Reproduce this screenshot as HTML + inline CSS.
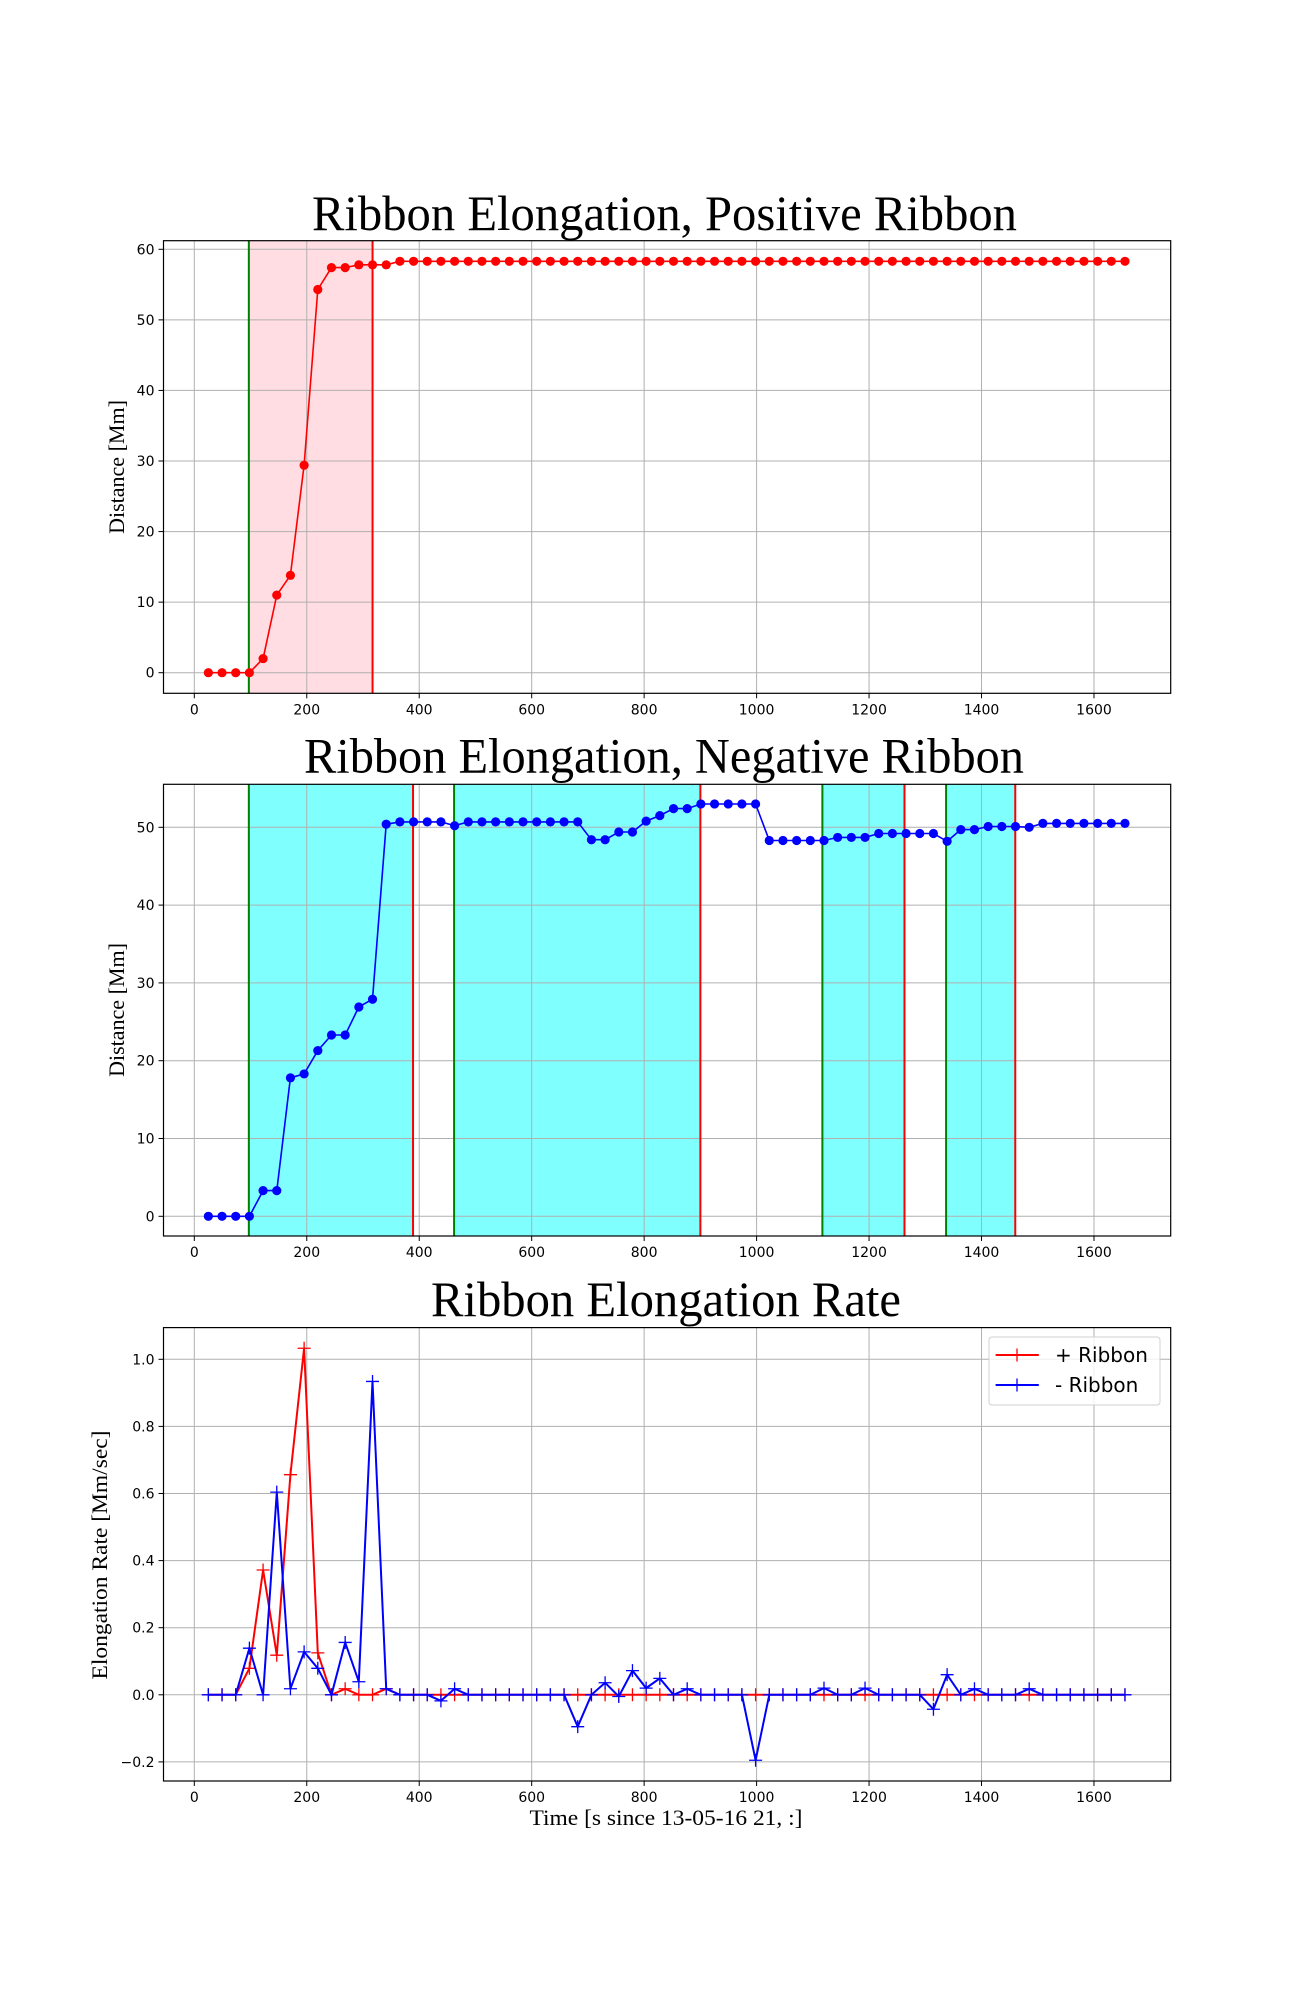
<!DOCTYPE html>
<html><head><meta charset="utf-8"><style>
html,body{margin:0;padding:0;background:#fff;}
svg{display:block;}
</style></head><body>
<svg id="fig" width="1300" height="2000" xmlns="http://www.w3.org/2000/svg" font-family="'DejaVu Sans', sans-serif"></svg>
<script>
// ---- data ----
const times = [];
for (let i = 0; i < 68; i++) times.push(25 + 24.33 * i);
const posDist = [0,0,0,0,2,11,13.8,29.4,54.3,57.4,57.4,57.8,57.8,57.8,
 58.3,58.3,58.3,58.3,58.3,58.3,58.3,58.3,58.3,58.3,58.3,58.3,58.3,58.3,58.3,58.3,58.3,58.3,58.3,58.3,
 58.3,58.3,58.3,58.3,58.3,58.3,58.3,58.3,58.3,58.3,58.3,58.3,58.3,58.3,58.3,58.3,58.3,58.3,58.3,58.3,
 58.3,58.3,58.3,58.3,58.3,58.3,58.3,58.3,58.3,58.3,58.3,58.3,58.3,58.3];
const negDist = [0,0,0,0,3.3,3.3,17.8,18.3,21.3,23.3,23.3,26.9,27.9,50.4,50.7,50.7,50.7,50.7,50.2,
 50.7,50.7,50.7,50.7,50.7,50.7,50.7,50.7,50.7,48.4,48.4,49.4,49.4,50.8,51.5,52.4,52.4,53.0,53.0,53.0,53.0,53.0,
 48.3,48.3,48.3,48.3,48.3,48.7,48.7,48.7,49.2,49.2,49.2,49.2,49.2,48.2,49.7,49.7,50.1,50.1,50.1,50.0,
 50.5,50.5,50.5,50.5,50.5,50.5,50.5];
const posRate = [0,0,0,0.079,0.372,0.118,0.656,1.033,0.125,0,0.018,0,0,0.018,
 0,0,0,0,0,0,0,0,0,0,0,0,0,0,0,0,0,0,0,0,0,0,0,0,0,0,0,0,0,0,0,0,0,0,0,0,0,0,0,0,0,0,0,0,0,0,0,0,0,0,0,0,0,0];
const negRate = [0,0,0,0.139,0,0.604,0.018,0.128,0.079,0,0.156,0.039,0.934,0.018,0,0,0,-0.018,0.018,
 0,0,0,0,0,0,0,0,-0.095,0,0.036,-0.005,0.072,0.02,0.049,0,0.018,0,0,0,0,-0.195,
 0,0,0,0,0.02,0,0,0.02,0,0,0,0,-0.043,0.06,0,0.018,0,0,0,0.018,0,0,0,0,0,0,0];
const posSpans = [[97,317]];
const negSpans = [[97,389],[462,900],[1117,1263],[1337,1460]];
const xTicks = [0,200,400,600,800,1000,1200,1400,1600];
const distTicks1 = [0,10,20,30,40,50,60];
const distTicks2 = [0,10,20,30,40,50];
const rateTicks = [-0.2,0,0.2,0.4,0.6,0.8,1.0];

const NS = "http://www.w3.org/2000/svg";
const svg = document.getElementById('fig');
function el(tag, attrs, parent) {
  const e = document.createElementNS(NS, tag);
  for (const k in attrs) e.setAttribute(k, attrs[k]);
  (parent || svg).appendChild(e);
  return e;
}
const X0 = 194.3, XS = 0.5623, LEFT = 163.5, RIGHT = 1170.7;
const xs = t => X0 + t * XS;

function makeAxes(name, top, bottom, yA, pA, yB, pB, yTicks, fmt) {
  const g = el('g', {});
  
  
  const ys = v => pA + (v - yA) * (pB - pA) / (yB - yA);
  return {g, ys, top, bottom, yTicks, fmt};
}
function drawGrid(ax) {
  const gg = el('g', {}, ax.g);
  
  
  xTicks.forEach(t => el('line', {x1: xs(t), x2: xs(t), y1: ax.top, y2: ax.bottom, stroke: '#b0b0b0', 'stroke-width': 1}, gg));
  ax.yTicks.forEach(v => el('line', {x1: LEFT, x2: RIGHT, y1: ax.ys(v), y2: ax.ys(v), stroke: '#b0b0b0', 'stroke-width': 1}, gg));
}
function drawFrame(ax) {
  const fr = el('rect', {x: LEFT, y: ax.top, width: RIGHT - LEFT, height: ax.bottom - ax.top, fill: 'none', stroke: '#000', 'stroke-width': 1.2}, ax.g);
  
  
  const tk = el('g', {'font-size': 14, fill: '#000'}, ax.g);
  
  
  xTicks.forEach(t => {
    el('line', {x1: xs(t), x2: xs(t), y1: ax.bottom, y2: ax.bottom + 5, stroke: '#000'}, tk);
    const tx = el('text', {x: xs(t), y: ax.bottom + 21, 'text-anchor': 'middle'}, tk);
    tx.textContent = String(t);
  });
  ax.yTicks.forEach(v => {
    el('line', {x1: LEFT - 5, x2: LEFT, y1: ax.ys(v), y2: ax.ys(v), stroke: '#000'}, tk);
    const tx = el('text', {x: LEFT - 9, y: ax.ys(v) + 5, 'text-anchor': 'end'}, tk);
    tx.textContent = ax.fmt(v);
  });
}
function spans(ax, list, fill) {
  list.forEach(s => {
    const r = el('rect', {x: xs(s[0]), y: ax.top, width: xs(s[1]) - xs(s[0]), height: ax.bottom - ax.top, fill: fill}, ax.g);
    
    
  });
}
function vlines(ax, list) {
  list.forEach(s => {
    el('line', {x1: xs(s[0]), x2: xs(s[0]), y1: ax.top, y2: ax.bottom, stroke: '#008000', 'stroke-width': 2}, ax.g);
    el('line', {x1: xs(s[1]), x2: xs(s[1]), y1: ax.top, y2: ax.bottom, stroke: '#ff0000', 'stroke-width': 2}, ax.g);
  });
}
function series(ax, vals, color, marker, name) {
  const g = el('g', {}, ax.g);
  
  
  const pts = vals.map((v, i) => xs(times[i]).toFixed(1) + ',' + ax.ys(v).toFixed(1)).join(' ');
  el('polyline', {points: pts, fill: 'none', stroke: color, 'stroke-width': marker === 'o' ? 1.6 : 2, 'stroke-linejoin': 'miter'}, g);
  vals.forEach((v, i) => {
    const x = xs(times[i]), y = ax.ys(v);
    if (marker === 'o') {
      el('circle', {cx: x, cy: y, r: 4.6, fill: color}, g);
    } else {
      el('path', {d: `M${x-6.5},${y}H${x+6.5}M${x},${y-6.5}V${y+6.5}`, stroke: color, 'stroke-width': 1.3}, g);
    }
  });
}
function text(str, attrs, name) {
  const t = el('text', attrs);
  t.textContent = str;
  
  
  return t;
}
const SERIF = "'Liberation Serif', serif";

// Plot 1
const a1 = makeAxes('positive-ribbon-chart', 240.7, 693.3, 60, 249.3, 0, 672.7, distTicks1, v => String(v));
spans(a1, posSpans, '#ffdde2');
drawGrid(a1);
vlines(a1, posSpans);
series(a1, posDist, '#ff0000', 'o', 'positive-distance-series');
drawFrame(a1);
text('Ribbon Elongation, Positive Ribbon', {x: 312, y: 230, 'font-family': SERIF, 'font-size': 50, textLength: 705, lengthAdjust: 'spacingAndGlyphs'}, 'positive-chart-title');
text('Distance [Mm]', {x: 0, y: 0, 'font-family': SERIF, 'font-size': 22, 'text-anchor': 'middle', transform: 'translate(124,467) rotate(-90)'}, 'y-axis-title');

// Plot 2
const a2 = makeAxes('negative-ribbon-chart', 784.3, 1236, 50, 827.3, 0, 1216.3, distTicks2, v => String(v));
spans(a2, negSpans, '#80ffff');
drawGrid(a2);
vlines(a2, negSpans);
series(a2, negDist, '#0000ff', 'o', 'negative-distance-series');
drawFrame(a2);
text('Ribbon Elongation, Negative Ribbon', {x: 304, y: 772.7, 'font-family': SERIF, 'font-size': 50, textLength: 720, lengthAdjust: 'spacingAndGlyphs'}, 'negative-chart-title');
text('Distance [Mm]', {x: 0, y: 0, 'font-family': SERIF, 'font-size': 22, 'text-anchor': 'middle', transform: 'translate(124,1010) rotate(-90)'}, 'y-axis-title');

// Plot 3
const a3 = makeAxes('elongation-rate-chart', 1327.6, 1781, 1.0, 1359.3, 0, 1694.8, rateTicks, v => (v < 0 ? '\u2212' : '') + Math.abs(v).toFixed(1));
drawGrid(a3);
series(a3, posRate, '#ff0000', '+', 'positive-rate-series');
series(a3, negRate, '#0000ff', '+', 'negative-rate-series');
drawFrame(a3);
text('Ribbon Elongation Rate', {x: 431, y: 1316, 'font-family': SERIF, 'font-size': 50, textLength: 470, lengthAdjust: 'spacingAndGlyphs'}, 'rate-chart-title');
text('Elongation Rate [Mm/sec]', {x: 0, y: 0, 'font-family': SERIF, 'font-size': 22, 'text-anchor': 'middle', textLength: 249, lengthAdjust: 'spacingAndGlyphs', transform: 'translate(107,1555) rotate(-90)'}, 'y-axis-title');
text('Time [s since 13-05-16 21, :]', {x: 666, y: 1825, 'font-family': SERIF, 'font-size': 22, 'text-anchor': 'middle', textLength: 273, lengthAdjust: 'spacingAndGlyphs'}, 'x-axis-title');

// Legend
const lg = el('g', {});


el('rect', {x: 989, y: 1337, width: 171, height: 68, rx: 3, fill: '#fff', 'fill-opacity': 0.8, stroke: '#d0d0d0'}, lg);
[['+ Ribbon', '#ff0000', 1355], ['- Ribbon', '#0000ff', 1385]].forEach(e => {
  const it = el('g', {}, lg);
  
  
  el('line', {x1: 995.6, x2: 1038.8, y1: e[2], y2: e[2], stroke: e[1], 'stroke-width': 2}, it);
  el('path', {d: `M${1017-6.5},${e[2]}H${1017+6.5}M1017,${e[2]-6.5}V${e[2]+6.5}`, stroke: e[1], 'stroke-width': 1.3}, it);
  const t = el('text', {x: 1055, y: e[2] + 7, 'font-size': 20}, it);
  t.textContent = e[0];
});
</script>
</body></html>
